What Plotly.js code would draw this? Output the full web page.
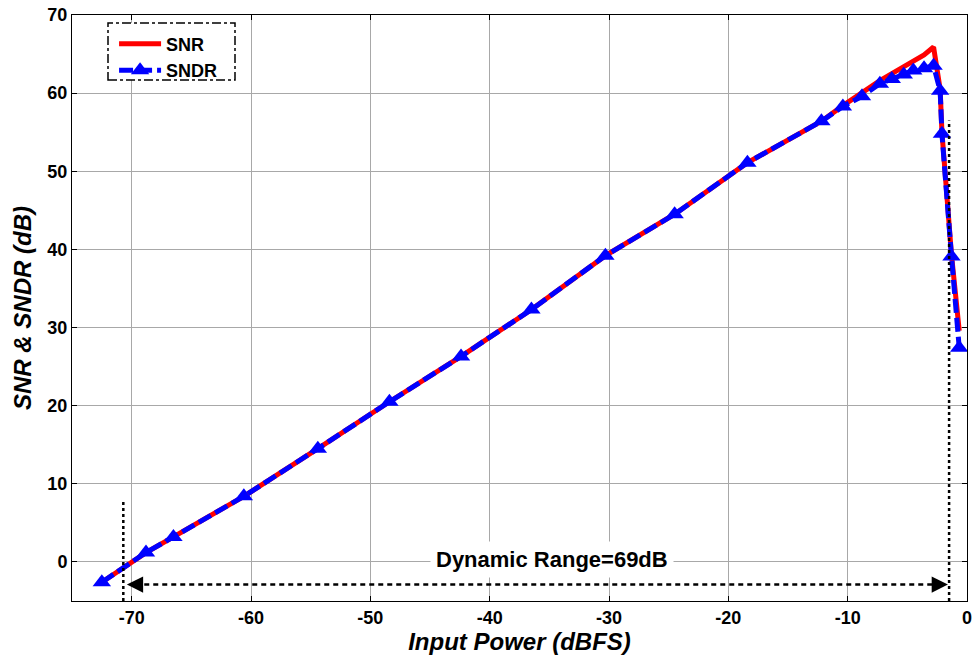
<!DOCTYPE html>
<html>
<head>
<meta charset="utf-8">
<script src="https://cdn.plot.ly/plotly-3.0.1.min.js"></script>
<style>html,body{margin:0;padding:0;background:#fff;}#chart{width:980px;height:662px;}</style>
</head>
<body>
<div id="chart"></div>
<script>
const inputPower = [-72.5, -68.8, -66.5, -60.6, -54.4, -48.4, -42.4, -36.5, -30.3, -24.5, -18.4, -12.2, -10.4, -8.8, -7.3, -6.3, -5.3, -4.5, -3.6, -2.8, -2.25, -2.1, -1.3, -0.65];
const snrValues = [-2.6, 1.2, 3.2, 8.4, 14.5, 20.5, 26.3, 32.3, 39.2, 44.5, 51.1, 56.4, 58.4, 60.1, 61.6, 62.5, 63.4, 64.1, 64.9, 65.9, 60.5, 55.0, 39.3, 29.6];
const sndrValues = [-2.6, 1.2, 3.2, 8.4, 14.5, 20.5, 26.3, 32.3, 39.2, 44.5, 51.1, 56.4, 58.3, 59.6, 61.2, 61.8, 62.4, 62.9, 63.2, 63.5, 60.3, 54.8, 39.1, 27.4];
const xTicks = [-70, -60, -50, -40, -30, -20, -10, 0];
const xTickText = ['-70', '-60', '-50', '-40', '-30', '-20', '-10', '0'];
const yTicks = [0, 10, 20, 30, 40, 50, 60, 70];
const yTickText = ['0', '10', '20', '30', '40', '50', '60', '70'];
const drLeft = -70.7, drRight = -1.5, drY = -2.9;
const drLabel = 'Dynamic Range=69dB';

const F = '"Liberation Sans", Arial, sans-serif';
const traces = [
  {x: inputPower, y: snrValues, name: 'SNR', mode: 'lines', line: {color: '#ff0000', width: 5}},
  {x: inputPower, y: sndrValues, name: 'SNDR', mode: 'lines+markers',
   line: {color: '#0000ff', width: 5, dash: '14px,5px'},
   marker: {symbol: 'triangle-up', size: 16, color: '#0000ff'}}
];
const axisCommon = {
  showline: true, linecolor: '#000', linewidth: 1, mirror: 'allticks',
  ticks: 'inside', ticklen: 5, tickcolor: '#000',
  showgrid: true, gridcolor: '#a8a8a8', gridwidth: 1, zeroline: false,
  tickfont: {family: F, size: 18, color: '#000', weight: 'bold'}
};
const layout = {
  width: 980, height: 662,
  margin: {l: 72, r: 13, t: 15, b: 61},
  paper_bgcolor: '#fff', plot_bgcolor: '#fff',
  xaxis: Object.assign({}, axisCommon, {range: [-75, 0], tickvals: xTicks, ticktext: xTickText,
    title: {text: 'Input Power (dBFS)', font: {family: F, size: 24, color: '#000', weight: 'bold', style: 'italic'}, standoff: 2}}),
  yaxis: Object.assign({}, axisCommon, {range: [-5, 70], tickvals: yTicks, ticktext: yTickText,
    title: {text: 'SNR & SNDR (dB)', font: {family: F, size: 24, color: '#000', weight: 'bold', style: 'italic'}, standoff: 8}}),
  showlegend: true,
  legend: {x: 0.047, y: 0.982, xanchor: 'left', yanchor: 'top', bgcolor: 'rgba(255,255,255,0)',
    borderwidth: 0,
    font: {family: F, size: 18, color: '#000', weight: 'bold'}, itemwidth: 42, tracegroupgap: 0},
  shapes: [
    {type: 'rect', xref: 'paper', yref: 'paper', x0: (108 - 72) / 895, x1: (235 - 72) / 895,
     y0: 1 - (80 - 15) / 586, y1: 1 - (23 - 15) / 586, fillcolor: '#fff', layer: 'above',
     line: {color: '#000', width: 1.5, dash: 'dashdot'}},
    {type: 'line', xref: 'x', yref: 'y', x0: drLeft, x1: drLeft, y0: -5, y1: 8, line: {color: '#000', width: 2.5, dash: 'dot'}},
    {type: 'line', xref: 'x', yref: 'y', x0: drRight, x1: drRight, y0: -5, y1: 56.5, line: {color: '#000', width: 2.5, dash: 'dot'}},
    {type: 'line', xref: 'x', yref: 'y', x0: drLeft + 1, x1: drRight - 1, y0: drY, y1: drY, line: {color: '#000', width: 2.5, dash: '5px,4px'}}
  ],
  annotations: [
    {x: drLeft + 0.3, y: drY, xref: 'x', yref: 'y', ax: 16, ay: 0, text: '', showarrow: true, arrowhead: 2, arrowsize: 1.3, arrowwidth: 2.5, arrowcolor: '#000'},
    {x: drRight - 0.1, y: drY, xref: 'x', yref: 'y', ax: -16, ay: 0, text: '', showarrow: true, arrowhead: 2, arrowsize: 1.3, arrowwidth: 2.5, arrowcolor: '#000'},
    {x: -34.8, y: 0.3, xref: 'x', yref: 'y', text: drLabel, showarrow: false, bgcolor: '#fff', borderpad: 5,
     font: {family: F, size: 22, color: '#000', weight: 'bold'}}
  ]
};
Plotly.newPlot('chart', traces, layout, {displayModeBar: false, staticPlot: true});
</script>
</body>
</html>
